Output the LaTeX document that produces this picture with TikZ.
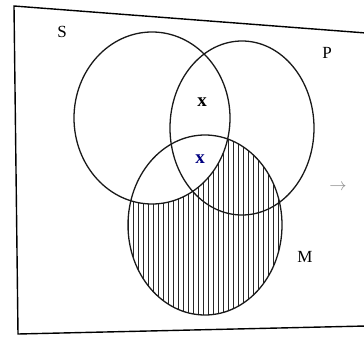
\documentclass[tikz,border=0pt]{standalone}
\usepackage{fontspec}
\setmainfont{Liberation Serif}
\begin{document}
\begin{tikzpicture}[x=1pt,y=-1pt,
  ring/.style={draw=black!90,line width=1.3pt},
  setlabel/.style={font=\fontsize{17}{20}\selectfont,inner sep=0pt},
  xmark/.style={font=\fontsize{19}{22}\selectfont\bfseries,inner sep=0pt},
  hatch/.style={black!85,line width=1pt}]
\useasboundingbox (0,0) rectangle (364,350);
% frame
\coordinate (f1) at (14,6);
\coordinate (f2) at (366,33);
\coordinate (f3) at (18,334);
\coordinate (f4) at (366,326);
\draw[line width=1.4pt] (f2) -- (f1) -- (f3) -- (f4);
% hatching: M minus S
\begin{scope}
  \clip (205,225) ellipse [x radius=77, y radius=90];
  \begin{scope}[even odd rule]
    \clip (0,0) rectangle (364,350) (152,118) ellipse [x radius=78, y radius=86];
    \foreach \x in {128,133,...,284} \draw[hatch] (\x,130) -- (\x,320);
  \end{scope}
\end{scope}
% circles
\draw[ring] (152,118) ellipse [x radius=78, y radius=86];
\draw[ring] (242,128) ellipse [x radius=72, y radius=87];
\draw[ring] (205,225) ellipse [x radius=77, y radius=90];
% labels
\node[setlabel] (S) at (62,32) {S};
\node[setlabel] (P) at (327,53) {P};
\node[setlabel] (M) at (305,257) {M};
\node[xmark] (x1) at (202,102) {x};
\node[xmark,text=blue!50!black] (x2) at (200,159) {x};
\node[text=black!45,font=\fontsize{18}{20}\selectfont,inner sep=0pt] (arr) at (338,187) {$\rightarrow$};
\end{tikzpicture}
\end{document}
